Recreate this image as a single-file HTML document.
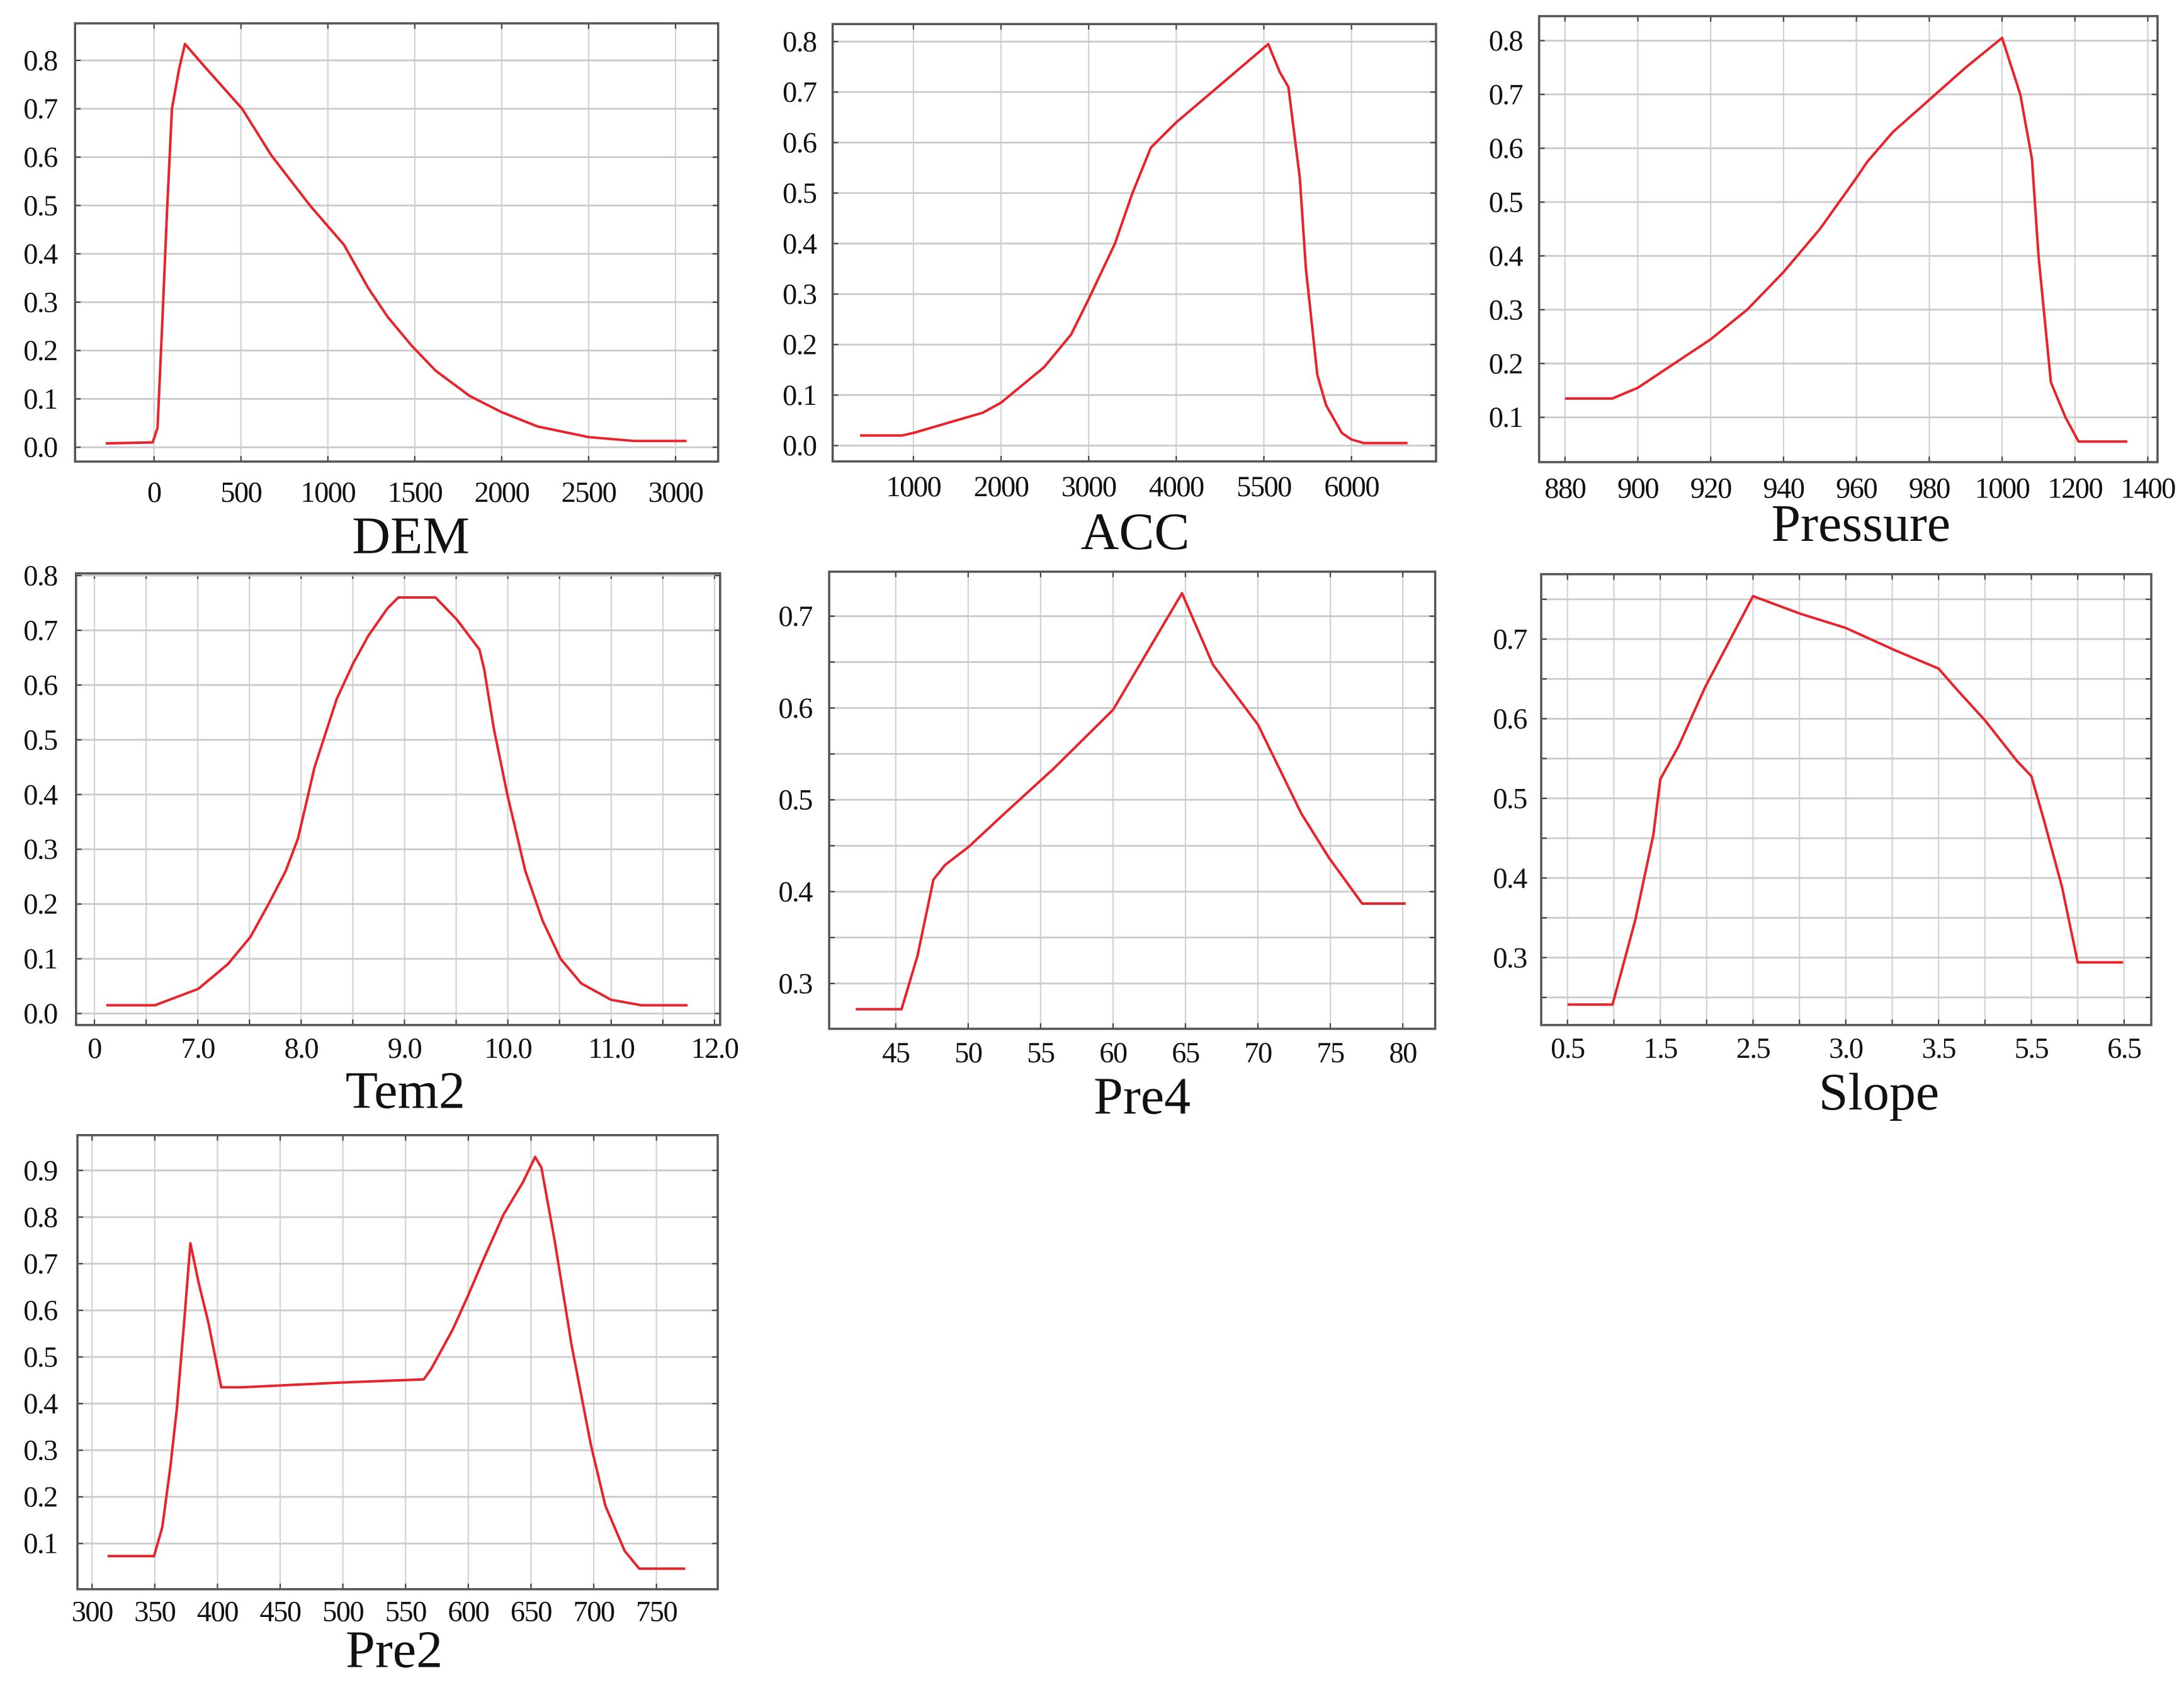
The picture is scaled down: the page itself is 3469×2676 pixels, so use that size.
<!DOCTYPE html>
<html><head><meta charset="utf-8">
<style>
html,body{margin:0;padding:0;background:#fff;}
svg{display:block;}
text{font-family:"Liberation Serif","Times New Roman",serif;fill:#111;}
.tick{letter-spacing:-0.7px;}
</style></head>
<body>
<svg id="fig" width="3469" height="2676" viewBox="0 0 1568 1212" preserveAspectRatio="none" xmlns="http://www.w3.org/2000/svg"></svg>
<script>
// ---- DEM ----
const demX=[-278,-8,20,47,75,103,145,178,284,507,674,897,1092,1231,1343,1482,1621,1816,1997,2206,2500,2764,3064];
const demY=[0.008,0.01,0.04,0.255,0.49,0.70,0.784,0.834,0.79,0.70,0.604,0.5,0.419,0.33,0.27,0.21,0.158,0.106,0.073,0.043,0.021,0.013,0.013];
const demXTicks=[0,500,1000,1500,2000,2500,3000];
const demXLabels=['0','500','1000','1500','2000','2500','3000'];
// ---- ACC (index axis) ----
const accX=[-0.61,-0.13,0,0.79,1,1.49,1.8,2,2.3,2.5,2.71,3,4.05,4.18,4.28,4.41,4.48,4.61,4.71,4.89,5,5.14,5.64];
const accY=[0.02,0.02,0.025,0.065,0.085,0.155,0.22,0.29,0.4,0.5,0.59,0.64,0.795,0.74,0.71,0.53,0.35,0.14,0.08,0.025,0.012,0.005,0.005];
const accXTicks=[0,1,2,3,4,5];
const accXLabels=['1000','2000','3000','4000','5500','6000'];
// ---- Pressure (index axis) ----
const preX=[0,0.65,1,1.5,2,2.5,3,3.5,4,4.15,4.5,5,5.5,6,6.25,6.41,6.5,6.67,6.87,7.05,7.72];
const preY=[0.135,0.135,0.155,0.2,0.245,0.3,0.37,0.45,0.545,0.575,0.63,0.69,0.75,0.805,0.70,0.58,0.4,0.165,0.10,0.055,0.055];
const preXTicks=[0,1,2,3,4,5,6,7,8];
const preXLabels=['880','900','920','940','960','980','1000','1200','1400'];
// ---- Tem2 (half-step index axis) ----
const temX=[0.23,1.17,2.01,2.58,3.02,3.37,3.7,3.94,4.26,4.69,5.01,5.3,5.67,5.88,6.6,7.01,7.45,7.54,7.73,7.99,8.34,8.67,9.02,9.42,10,10.59,11.48];
const temY=[0.015,0.015,0.045,0.09,0.14,0.2,0.26,0.32,0.45,0.575,0.64,0.69,0.74,0.76,0.76,0.72,0.665,0.63,0.52,0.4,0.26,0.17,0.1,0.055,0.025,0.015,0.015];
const temXGrid=[0,1,2,3,4,5,6,7,8,9,10,11,12];
const temXTicks=[0,2,4,6,8,10,12];
const temXLabels=['0','7.0','8.0','9.0','10.0','11.0','12.0'];
// ---- Pre4 ----
const p4X=[42.24,45.4,46.5,47.6,48.4,50.05,52.5,55.9,60,64.76,66.9,70,73,74.9,77.2,80.2];
const p4Y=[0.272,0.272,0.33,0.413,0.429,0.449,0.485,0.534,0.598,0.725,0.647,0.582,0.485,0.437,0.387,0.387];
const p4XTicks=[45,50,55,60,65,70,75,80];
const p4XLabels=['45','50','55','60','65','70','75','80'];
// ---- Slope (half-step index axis) ----
const slX=[0,0.97,1.46,1.85,2.0,2.39,2.97,4.0,5.01,6.0,7.06,8.0,8.42,9.0,9.69,10,10.27,10.66,11.0,11.98];
const slY=[0.241,0.241,0.347,0.454,0.524,0.565,0.64,0.754,0.732,0.714,0.686,0.663,0.635,0.598,0.547,0.528,0.473,0.389,0.294,0.294];
const slXGrid=[0,1,2,3,4,5,6,7,8,9,10,11,12];
const slXTicks=[0,2,4,6,8,10,12];
const slXLabels=['0.5','1.5','2.5','3.0','3.5','5.5','6.5'];
// ---- Pre2 ----
const p2X=[312.4,349.4,356,362.5,367.6,373.4,378.4,385,392.7,403,419.7,496.9,564.5,570.3,587.6,599.2,612.7,628.2,643.6,653.3,658.3,668.7,682.2,697.7,709.3,724.7,736.3,773];
const p2Y=[0.073,0.073,0.135,0.266,0.389,0.574,0.744,0.659,0.574,0.435,0.435,0.445,0.452,0.474,0.559,0.628,0.713,0.806,0.875,0.929,0.906,0.752,0.528,0.312,0.181,0.084,0.046,0.046];
const p2XTicks=[300,350,400,450,500,550,600,650,700,750];
const p2XLabels=['300','350','400','450','500','550','600','650','700','750'];
// y ticks
const y08=[0,0.1,0.2,0.3,0.4,0.5,0.6,0.7,0.8];
const y08L=['0.0','0.1','0.2','0.3','0.4','0.5','0.6','0.7','0.8'];
const y18=[0.1,0.2,0.3,0.4,0.5,0.6,0.7,0.8];
const y18L=['0.1','0.2','0.3','0.4','0.5','0.6','0.7','0.8'];
const y19=[0.1,0.2,0.3,0.4,0.5,0.6,0.7,0.8,0.9];
const y19L=['0.1','0.2','0.3','0.4','0.5','0.6','0.7','0.8','0.9'];
const y37Grid=[0.3,0.35,0.4,0.45,0.5,0.55,0.6,0.65,0.7];
const y37=[0.3,0.4,0.5,0.6,0.7];
const y37L=['0.3','0.4','0.5','0.6','0.7'];
const slYGrid=[0.25,0.3,0.35,0.4,0.45,0.5,0.55,0.6,0.65,0.7,0.75];

const NS='http://www.w3.org/2000/svg';
const svg=document.getElementById('fig');
function mk(tag,attrs,parent){const e=document.createElementNS(NS,tag);for(const k in attrs)e.setAttribute(k,attrs[k]);(parent||svg).appendChild(e);return e;}

function panel(p){
  const g=mk('g',{});
  
  
  const [L,T,R,B]=p.frame;
  const sx=v=>p.x0+(v-p.xv0)*p.xs;
  const sy=v=>p.y0-v*p.ys;
  p.xgrid.forEach(v=>{
    const l=mk('line',{x1:sx(v),x2:sx(v),y1:T,y2:B,stroke:'#d2d2d2','stroke-width':1},g);
    
    
    mk('line',{x1:sx(v),x2:sx(v),y1:T,y2:T+4,stroke:'#444','stroke-width':1},g);
    mk('line',{x1:sx(v),x2:sx(v),y1:B-4,y2:B,stroke:'#444','stroke-width':1},g);
  });
  p.ygrid.forEach(v=>{
    const l=mk('line',{x1:L,x2:R,y1:sy(v),y2:sy(v),stroke:'#cbcbcb','stroke-width':1.3},g);
    
    
    mk('line',{x1:L,x2:L+4,y1:sy(v),y2:sy(v),stroke:'#444','stroke-width':1},g);
    mk('line',{x1:R-4,x2:R,y1:sy(v),y2:sy(v),stroke:'#444','stroke-width':1},g);
  });
  const fr=mk('rect',{x:L,y:T,width:R-L,height:B-T,fill:'none',stroke:'#555','stroke-width':1.6},g);
  
  
  p.xticks.forEach((v,i)=>{
    const t=mk('text',{x:sx(v),y:p.xlabY,'text-anchor':'middle','font-size':21,'class':'tick'},g);
    t.textContent=p.xlabels[i];
    
    
  });
  p.yticks.forEach((v,i)=>{
    const t=mk('text',{x:p.ylabX,y:sy(v)+7,'text-anchor':'end','font-size':21,'class':'tick'},g);
    t.textContent=p.ylabels[i];
    
    
  });
  const pts=p.xs_data.map((v,i)=>sx(v).toFixed(2)+','+sy(p.ys_data[i]).toFixed(2)).join(' ');
  const pl=mk('polyline',{points:pts,fill:'none',stroke:'#e8232b','stroke-width':1.8,'stroke-linejoin':'round'},g);
  
  
  const tt=mk('text',{x:p.titleX,y:p.titleY,'text-anchor':'middle','font-size':38},g);
  tt.textContent=p.title;
  
  
}

panel({name:'dem',title:'DEM',frame:[53.9,16.8,515.6,332],x0:110.6,xv0:0,xs:62.4/500,y0:321.7,ys:347.8,
 xgrid:demXTicks,ygrid:y08,xticks:demXTicks,xlabels:demXLabels,yticks:y08,ylabels:y08L,
 xlabY:361,ylabX:41,titleX:295,titleY:398,xs_data:demX,ys_data:demY});
panel({name:'acc',title:'ACC',frame:[597.8,17.3,1031,331.9],x0:655.8,xv0:0,xs:62.9,y0:320.5,ys:363.25,
 xgrid:accXTicks,ygrid:y08,xticks:accXTicks,xlabels:accXLabels,yticks:y08,ylabels:y08L,
 xlabY:357,ylabX:586,titleX:815,titleY:395,xs_data:accX,ys_data:accY});
panel({name:'pressure',title:'Pressure',frame:[1105,11.6,1549,332.4],x0:1123.6,xv0:0,xs:52.3,y0:338.9,ys:387.1,
 xgrid:preXTicks,ygrid:y18,xticks:preXTicks,xlabels:preXLabels,yticks:y18,ylabels:y18L,
 xlabY:358,ylabX:1093,titleX:1336,titleY:389,xs_data:preX,ys_data:preY});
panel({name:'tem2',title:'Tem2',frame:[54.6,412.4,517,737.3],x0:67.8,xv0:0,xs:37.1,y0:729,ys:393.75,
 xgrid:temXGrid,ygrid:y08,xticks:temXTicks,xlabels:temXLabels,yticks:y08,ylabels:y08L,
 xlabY:761,ylabX:41,titleX:291,titleY:797,xs_data:temX,ys_data:temY});
panel({name:'pre4',title:'Pre4',frame:[595.3,411.2,1030.4,740],x0:643.1,xv0:45,xs:10.4,y0:443.2+0.7*660.5,ys:660.5,
 xgrid:p4XTicks,ygrid:y37Grid,xticks:p4XTicks,xlabels:p4XLabels,yticks:y37,ylabels:y37L,
 xlabY:764,ylabX:583,titleX:820,titleY:801,xs_data:p4X,ys_data:p4Y});
panel({name:'slope',title:'Slope',frame:[1106.5,413,1544.5,737.3],x0:1125.4,xv0:0,xs:33.3,y0:459.7+0.7*572.75,ys:572.75,
 xgrid:slXGrid,ygrid:slYGrid,xticks:slXTicks,xlabels:slXLabels,yticks:y37,ylabels:y37L,
 xlabY:761,ylabX:1096,titleX:1349,titleY:798,xs_data:slX,ys_data:slY});
panel({name:'pre2',title:'Pre2',frame:[55.6,816.5,515.3,1143.1],x0:66.1,xv0:300,xs:0.9004,y0:841.9+0.9*335.4,ys:335.4,
 xgrid:p2XTicks,ygrid:y19,xticks:p2XTicks,xlabels:p2XLabels,yticks:y19,ylabels:y19L,
 xlabY:1166,ylabX:41,titleX:283,titleY:1199,xs_data:p2X,ys_data:p2Y});
</script>
</body></html>
